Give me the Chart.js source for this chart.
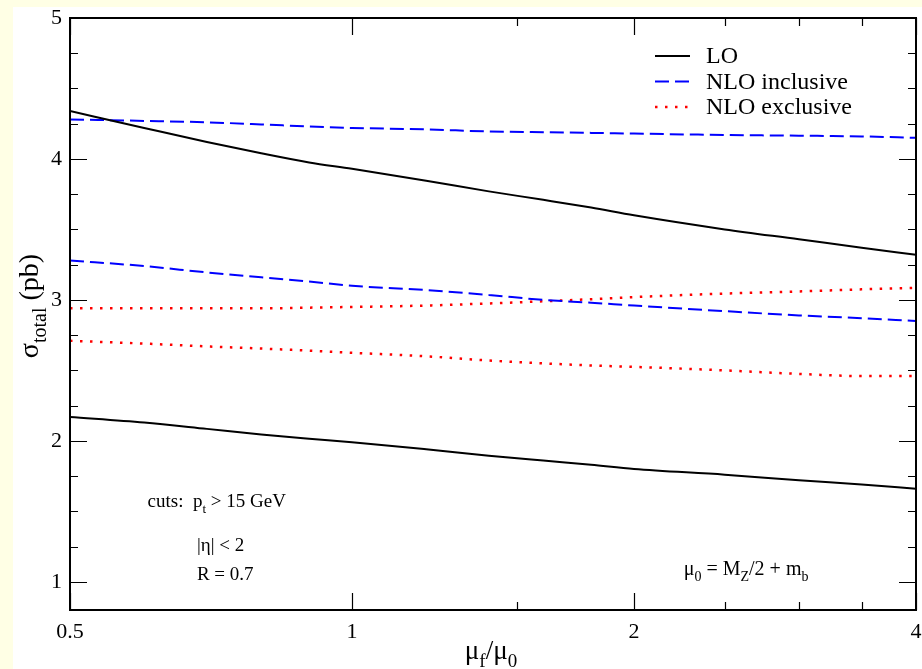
<!DOCTYPE html>
<html>
<head>
<meta charset="utf-8">
<script src="https://cdn.jsdelivr.net/npm/chart.js@4.4.0/dist/chart.umd.min.js"></script>
<style>
html, body { margin: 0; padding: 0; background: #ffffe5; }
#panel { position: absolute; left: 13px; top: 7px; width: 909px; height: 662px; background: #fff; }
#chart { position: absolute; left: 0; top: 0; }
</style>
</head>
<body>
<div id="panel"></div>
<canvas id="chart" width="922" height="669"></canvas>
<script>
"use strict";

// mu_f / mu_0
var scaleRatio = [0.5, 0.6, 0.7, 0.8, 0.9, 1.0, 1.2, 1.4, 1.6, 1.8, 2.0, 2.5, 3.0, 3.5, 4.0];

// sigma_total (pb), upper and lower band edges
var loUpper     = [4.34, 4.22, 4.12, 4.04, 3.975, 3.93, 3.845, 3.77, 3.71, 3.655, 3.60, 3.50, 3.43, 3.37, 3.32];
var loLower     = [2.17, 2.13, 2.085, 2.045, 2.015, 1.99, 1.94, 1.895, 1.86, 1.83, 1.80, 1.76, 1.72, 1.69, 1.66];
var nloIncUpper = [4.28, 4.27, 4.26, 4.245, 4.23, 4.22, 4.21, 4.195, 4.19, 4.185, 4.18, 4.17, 4.165, 4.16, 4.15];
var nloIncLower = [3.28, 3.24, 3.195, 3.16, 3.13, 3.10, 3.07, 3.035, 3.00, 2.98, 2.96, 2.92, 2.89, 2.87, 2.85];
var nloExcUpper = [2.94, 2.94, 2.94, 2.94, 2.945, 2.95, 2.96, 2.975, 2.99, 3.005, 3.02, 3.045, 3.06, 3.075, 3.085];
var nloExcLower = [2.71, 2.69, 2.67, 2.655, 2.64, 2.625, 2.60, 2.57, 2.55, 2.535, 2.525, 2.50, 2.475, 2.46, 2.46];

var xTicks = [0.5, 1, 2, 4];
var xMinorTicks = [1.5, 2.5, 3, 3.5];
var yTicks = [1, 2, 3, 4, 5];
var yMinorTicks = [1.25, 1.5, 1.75, 2.25, 2.5, 2.75, 3.25, 3.5, 3.75, 4.25, 4.5, 4.75];

var legendLabels = ['LO', 'NLO inclusive', 'NLO exclusive'];

var SERIF = '"Liberation Serif", "DejaVu Serif", Times, serif';

var STYLES = {
    lo:  { color: '#000000', width: 2, dash: [] },
    inc: { color: '#0000ff', width: 2, dash: [14, 6] },
    exc: { color: '#ff0000', width: 2.5, dash: [2.5, 7.5] }
};

function toPoints(ys) {
    return scaleRatio.map(function(x, i) {
        return { x: x, y: ys[i] };
    });
}

function makeDataset(label, ys, style) {
    return {
        label: label,
        data: toPoints(ys),
        borderColor: style.color,
        borderWidth: style.width,
        borderDash: style.dash,
        pointRadius: 0,
        fill: false,
        cubicInterpolationMode: 'monotone'
    };
}

// draw a run of text pieces, some of them subscripts
function drawRich(ctx, parts, x, y, size, align) {
    var widths = parts.map(function(p) {
        ctx.font = (p.sub ? Math.round(size * 0.7) : size) + 'px ' + SERIF;
        return ctx.measureText(p.t).width;
    });
    var total = widths.reduce(function(a, b) { return a + b; }, 0);
    var cx = align === 'center' ? x - total / 2 : x;
    parts.forEach(function(p, i) {
        ctx.font = (p.sub ? Math.round(size * 0.7) : size) + 'px ' + SERIF;
        ctx.fillText(p.t, cx, p.sub ? y + size * 0.3 : y);
        cx += widths[i];
    });
}

var framePlugin = {
    id: 'frame',
    afterDatasetsDraw: function(chart) {
        var ctx = chart.ctx;
        var a = chart.chartArea;
        var xs = chart.scales.x;
        var ys = chart.scales.y;
        ctx.save();
        ctx.strokeStyle = '#000';
        ctx.lineWidth = 1.2;
        ctx.setLineDash([]);
        ctx.beginPath();
        function xTick(v, len) {
            var px = Math.round(xs.getPixelForValue(v)) + 0.5;
            ctx.moveTo(px, a.bottom); ctx.lineTo(px, a.bottom - len);
            ctx.moveTo(px, a.top); ctx.lineTo(px, a.top + len);
        }
        function yTick(v, len) {
            var py = Math.round(ys.getPixelForValue(v)) + 0.5;
            ctx.moveTo(a.left, py); ctx.lineTo(a.left + len, py);
            ctx.moveTo(a.right, py); ctx.lineTo(a.right - len, py);
        }
        xTicks.forEach(function(v) { xTick(v, 17); });
        xMinorTicks.forEach(function(v) { xTick(v, 8); });
        yTicks.forEach(function(v) { yTick(v, 17); });
        yMinorTicks.forEach(function(v) { yTick(v, 8); });
        ctx.stroke();

        ctx.lineWidth = 2;
        ctx.strokeRect(a.left, a.top, a.right - a.left, a.bottom - a.top);

        // legend
        var keys = ['lo', 'inc', 'exc'];
        ctx.textBaseline = 'middle';
        ctx.fillStyle = '#000';
        legendLabels.forEach(function(label, i) {
            var st = STYLES[keys[i]];
            var ly = a.top + 38 + i * 25.5;
            ctx.strokeStyle = st.color;
            ctx.lineWidth = st.width;
            ctx.setLineDash(st.dash);
            ctx.beginPath();
            ctx.moveTo(a.right - 261, ly);
            ctx.lineTo(a.right - 226, ly);
            ctx.stroke();
            ctx.font = '24px ' + SERIF;
            ctx.fillText(label, a.right - 210, ly + 1);
        });
        ctx.setLineDash([]);

        // notes
        ctx.textBaseline = 'alphabetic';
        drawRich(ctx, [{t: 'cuts:  p'}, {t: 't', sub: true}, {t: ' > 15 GeV'}],
            xs.getPixelForValue(0.605), ys.getPixelForValue(1.53), 19);
        drawRich(ctx, [{t: '|\u03b7| < 2'}],
            xs.getPixelForValue(0.683), ys.getPixelForValue(1.22), 19);
        drawRich(ctx, [{t: 'R = 0.7'}],
            xs.getPixelForValue(0.683), ys.getPixelForValue(1.01), 19);
        drawRich(ctx, [{t: '\u03bc'}, {t: '0', sub: true}, {t: ' = M'}, {t: 'Z', sub: true},
            {t: '/2 + m'}, {t: 'b', sub: true}],
            xs.getPixelForValue(2.26), ys.getPixelForValue(1.045), 20);

        // axis titles
        drawRich(ctx, [{t: '\u03bc'}, {t: 'f', sub: true}, {t: '/\u03bc'}, {t: '0', sub: true}],
            (a.left + a.right) / 2 - 2, 659, 27, 'center');
        ctx.translate(38, 306);
        ctx.rotate(-Math.PI / 2);
        drawRich(ctx, [{t: '\u03c3'}, {t: 'total', sub: true}, {t: ' (pb)'}], 0, 0, 28, 'center');
        ctx.restore();
    }
};

var chart = new Chart(document.getElementById('chart'), {
    type: 'line',
    data: {
        datasets: [
            makeDataset('LO', loUpper, STYLES.lo),
            makeDataset('LO', loLower, STYLES.lo),
            makeDataset('NLO inclusive', nloIncUpper, STYLES.inc),
            makeDataset('NLO inclusive', nloIncLower, STYLES.inc),
            makeDataset('NLO exclusive', nloExcUpper, STYLES.exc),
            makeDataset('NLO exclusive', nloExcLower, STYLES.exc)
        ]
    },
    options: {
        responsive: false,
        animation: false,
        layout: { padding: { left: 0, right: 6, top: 18, bottom: 0 } },
        plugins: {
            legend: { display: false },
            tooltip: { enabled: false }
        },
        scales: {
            x: {
                type: 'logarithmic',
                min: 0.5,
                max: 4,
                grid: { display: false, drawTicks: false },
                border: { display: false },
                afterBuildTicks: function(scale) {
                    scale.ticks = xTicks.map(function(v) { return { value: v }; });
                },
                afterFit: function(scale) {
                    scale.height = 59;
                    scale.paddingLeft = 0;
                    scale.paddingRight = 0;
                },
                ticks: {
                    color: '#000',
                    padding: 9,
                    maxRotation: 0,
                    autoSkip: false,
                    font: { family: SERIF, size: 22 },
                    callback: function(v) { return String(v); }
                }
            },
            y: {
                type: 'linear',
                min: 0.8,
                max: 5,
                grid: { display: false, drawTicks: false },
                border: { display: false },
                afterBuildTicks: function(scale) {
                    scale.ticks = yTicks.map(function(v) { return { value: v }; });
                },
                afterFit: function(scale) {
                    scale.width = 70;
                    scale.paddingTop = 0;
                    scale.paddingBottom = 0;
                },
                ticks: {
                    color: '#000',
                    padding: 8,
                    font: { family: SERIF, size: 22 },
                    callback: function(v) { return String(v); }
                }
            }
        }
    },
    plugins: [framePlugin]
});
</script>
</body>
</html>
